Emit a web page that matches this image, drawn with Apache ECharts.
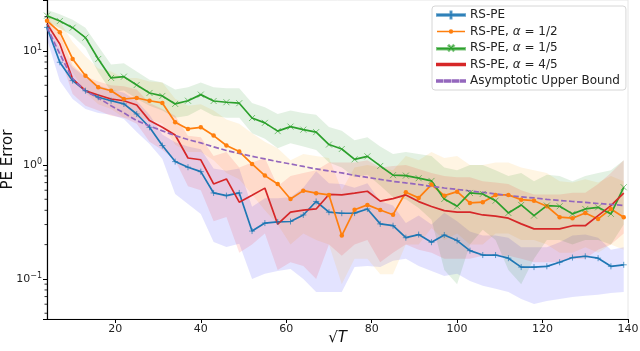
<!DOCTYPE html>
<html>
<head>
<meta charset="utf-8">
<script src="https://cdn.jsdelivr.net/npm/echarts@6/dist/echarts.min.js"></script>
<style>
  html, body { margin: 0; padding: 0; background: #fff; }
  #chart { width: 640px; height: 351px; }
</style>
</head>
<body>
<div id="chart"></div>
<script>
// sqrt(T) sample positions
const xs = [4, 7, 10, 13, 16, 19, 22, 25, 28, 31, 34, 37, 40, 43, 46, 49, 52, 55, 58, 61, 64, 67, 70, 73, 76, 79, 82, 85, 88, 91, 94, 97, 100, 103, 106, 109, 112, 115, 118, 121, 124, 127, 130, 133, 136, 139];

// RS-PE
const rsPe = [16.1, 7.96, 5.49, 4.48, 3.93, 3.66, 3.43, 2.80, 2.14, 1.48, 1.07, 0.955, 0.873, 0.568, 0.538, 0.568, 0.263, 0.309, 0.316, 0.319, 0.364, 0.478, 0.385, 0.377, 0.378, 0.411, 0.304, 0.293, 0.230, 0.245, 0.210, 0.243, 0.217, 0.177, 0.162, 0.162, 0.152, 0.127, 0.127, 0.129, 0.140, 0.154, 0.158, 0.152, 0.129, 0.133];
const rsPeLo = [12.7, 5.46, 3.79, 3.10, 2.86, 2.75, 2.53, 1.95, 1.53, 1.13, 0.557, 0.455, 0.372, 0.211, 0.191, 0.203, 0.100, 0.111, 0.1175, 0.1224, 0.100, 0.0769, 0.0769, 0.0769, 0.1274, 0.130, 0.1274, 0.144, 0.150, 0.130, 0.1175, 0.106, 0.111, 0.096, 0.087, 0.082, 0.0769, 0.0668, 0.0604, 0.064, 0.0668, 0.0695, 0.071, 0.0725, 0.0754, 0.0769];
const rsPeHi = [19.5, 10.5, 7.2, 5.9, 5.0, 4.6, 4.3, 3.65, 2.75, 1.85, 1.58, 1.45, 1.37, 0.93, 0.89, 0.93, 0.43, 0.51, 0.51, 0.52, 0.63, 0.88, 0.69, 0.68, 0.63, 0.69, 0.48, 0.44, 0.31, 0.36, 0.30, 0.38, 0.32, 0.26, 0.24, 0.24, 0.23, 0.19, 0.19, 0.19, 0.21, 0.24, 0.245, 0.23, 0.18, 0.19];

// RS-PE, alpha = 1/2
const rsPeHalf = [18.4, 14.6, 8.51, 6.07, 4.80, 4.48, 3.79, 3.87, 3.66, 3.50, 2.37, 2.07, 2.14, 1.81, 1.48, 1.31, 1.02, 0.806, 0.681, 0.503, 0.595, 0.565, 0.546, 0.240, 0.405, 0.446, 0.403, 0.366, 0.576, 0.514, 0.672, 0.538, 0.583, 0.464, 0.471, 0.546, 0.546, 0.496, 0.486, 0.434, 0.348, 0.341, 0.379, 0.336, 0.411, 0.348];
const rsPeHalfLo = [16, 12, 6.5, 4.3, 3.4, 3.1, 2.6, 2.6, 2.5, 2.3, 1.5, 1.3, 1.3, 1.1, 0.85, 0.75, 0.55, 0.4, 0.3, 0.2, 0.25, 0.22, 0.2, 0.09, 0.15, 0.15, 0.11, 0.11, 0.2, 0.2, 0.28, 0.22, 0.25, 0.2, 0.2, 0.25, 0.25, 0.22, 0.22, 0.2, 0.17, 0.17, 0.19, 0.17, 0.2, 0.18];
const rsPeHalfHi = [21, 18, 12, 9.0, 7.0, 6.6, 5.8, 5.8, 5.4, 5.3, 3.8, 3.3, 3.4, 3.0, 2.5, 2.3, 1.9, 1.6, 1.4, 1.1, 1.25, 1.2, 1.15, 0.6, 0.95, 1.0, 0.95, 0.9, 1.2, 1.1, 1.3, 1.15, 1.2, 1.0, 1.0, 1.05, 1.05, 0.95, 0.9, 0.85, 0.72, 0.7, 0.75, 0.7, 0.8, 0.72];

// RS-PE, alpha = 1/5
const rsPeFifth = [20.4, 18.3, 16.0, 13.1, 8.51, 5.80, 5.95, 5.03, 4.28, 4.03, 3.43, 3.66, 4.14, 3.64, 3.55, 3.48, 2.58, 2.34, 1.98, 2.17, 2.04, 1.94, 1.51, 1.38, 1.12, 1.19, 0.98, 0.814, 0.806, 0.765, 0.724, 0.503, 0.434, 0.568, 0.557, 0.486, 0.379, 0.446, 0.359, 0.440, 0.434, 0.372, 0.411, 0.425, 0.372, 0.637];
const rsPeFifthLo = [18.0, 15.8, 13.5, 10.6, 6.5, 4.4, 4.5, 3.8, 3.3, 3.0, 2.6, 2.7, 3.1, 2.7, 2.6, 2.6, 1.9, 1.7, 1.4, 1.55, 1.45, 1.35, 1.05, 0.95, 0.78, 0.82, 0.66, 0.52, 0.50, 0.42, 0.33, 0.12, 0.09, 0.2, 0.27, 0.22, 0.12, 0.09, 0.15, 0.22, 0.22, 0.2, 0.22, 0.22, 0.2, 0.3];
const rsPeFifthHi = [23.0, 21.0, 18.8, 16.0, 11.0, 7.6, 7.8, 6.6, 5.6, 5.3, 4.6, 4.8, 5.3, 4.8, 4.7, 4.7, 3.5, 3.2, 2.8, 3.0, 2.85, 2.75, 2.15, 2.0, 1.65, 1.75, 1.45, 1.25, 1.3, 1.25, 1.2, 0.95, 0.9, 1.0, 1.0, 0.9, 0.8, 0.85, 0.72, 0.82, 0.8, 0.72, 0.8, 0.85, 0.9, 1.1];

// RS-PE, alpha = 4/5
const rsPeFourFifths = [17.3, 11.5, 5.68, 4.48, 4.11, 3.79, 3.66, 3.36, 2.45, 2.14, 1.83, 1.15, 1.11, 0.681, 0.754, 0.471, 0.542, 0.626, 0.302, 0.385, 0.401, 0.411, 0.551, 0.546, 0.566, 0.588, 0.481, 0.506, 0.546, 0.477, 0.432, 0.397, 0.385, 0.385, 0.364, 0.355, 0.341, 0.304, 0.275, 0.275, 0.275, 0.293, 0.293, 0.359, 0.440, 0.565];
const rsPeFourFifthsLo = [15, 9, 4.2, 3.3, 3.0, 2.7, 2.6, 2.3, 1.6, 1.35, 1.1, 0.65, 0.6, 0.32, 0.35, 0.17, 0.2, 0.25, 0.12, 0.14, 0.13, 0.1, 0.2, 0.16, 0.2, 0.22, 0.14, 0.17, 0.2, 0.18, 0.17, 0.15, 0.15, 0.15, 0.16, 0.16, 0.16, 0.15, 0.14, 0.14, 0.14, 0.15, 0.15, 0.18, 0.2, 0.25];
const rsPeFourFifthsHi = [20, 14, 7.5, 6.0, 5.4, 5.0, 4.9, 4.6, 3.5, 3.1, 2.7, 1.8, 1.75, 1.2, 1.3, 0.95, 1.05, 1.15, 0.65, 0.8, 0.85, 0.9, 1.05, 1.05, 1.05, 1.1, 0.95, 0.98, 1.0, 0.92, 0.85, 0.8, 0.78, 0.78, 0.72, 0.7, 0.68, 0.6, 0.55, 0.55, 0.55, 0.57, 0.57, 0.68, 0.85, 1.1];

// Asymptotic Upper Bound
const upperBound = [16.2, 9.41, 5.68, 4.46, 3.87, 3.31, 2.86, 2.45, 2.20, 1.99, 1.81, 1.67, 1.56, 1.44, 1.34, 1.26, 1.19, 1.13, 1.07, 1.02, 0.97, 0.922, 0.886, 0.851, 0.809, 0.777, 0.746, 0.717, 0.695, 0.674, 0.648, 0.628, 0.610, 0.591, 0.574, 0.557, 0.540, 0.524, 0.514, 0.498, 0.488, 0.478, 0.469, 0.459, 0.450, 0.441];

// log-axis minor tick values
const minorTicks = [0.05, 0.06, 0.07, 0.08, 0.09, 0.2, 0.3, 0.4, 0.5, 0.6, 0.7, 0.8, 0.9, 2, 3, 4, 5, 6, 7, 8, 9, 20];

const X_MIN = 4, X_MAX = 140, Y_MIN = 0.0445, Y_MAX = 28;
const FONT = "DejaVu Sans";
const names = ["RS-PE", "RS-PE, α = 1/2", "RS-PE, α = 1/5", "RS-PE, α = 4/5", "Asymptotic Upper Bound"];

// legend icons (28 wide so they keep 1:1 scale)
const BAR = "M0,0h28v1.5h-28Z";
const iconPlus = "path://M0,2.7h28v1.5h-28Z M13.5,0h1v7h-1Z";
const iconDot = "path://M0,1.5h28v1.5h-28Z M11.8,2.25a2.2,2.2 0 1,1 4.4,0a2.2,2.2 0 1,1 -4.4,0Z";
const iconCross = "path://M0,2.4h28v1.5h-28Z M11.3,0.3l0.7,-0.7l5,5l-0.7,0.7Z M16.3,-0.4l0.7,0.7l-5,5l-0.7,-0.7Z";
const iconDash = "path://M0,0h5.5v1.5h-5.5Z M8,0h5.5v1.5h-5.5Z M16,0h5.5v1.5h-5.5Z M24,0h4v1.5h-4Z";

const pairs = arr => xs.map((x, i) => [x, arr[i]]);

// shaded band between lo and hi
const band = (lo, hi, fill) => ({
  type: "custom",
  data: [[xs[0], lo[0]]],
  silent: true,
  clip: true,
  z: 1,
  renderItem: (params, api) => {
    const pts = [];
    for (let i = 0; i < xs.length; i++) pts.push(api.coord([xs[i], hi[i]]));
    for (let i = xs.length - 1; i >= 0; i--) pts.push(api.coord([xs[i], lo[i]]));
    return { type: "polygon", shape: { points: pts }, style: { fill: fill } };
  }
});

const line = (name, arr, color, symbol, size, markColor, extra) => Object.assign({
  name: name,
  type: "line",
  data: pairs(arr),
  z: 3,
  symbol: symbol,
  symbolSize: size,
  showSymbol: symbol !== "none",
  lineStyle: { color: color, width: 1.7 },
  itemStyle: { color: markColor, borderColor: markColor, borderWidth: 1 }
}, extra || {});

const PLUS = "path://M0,5L10,5M5,0L5,10";
const CROSS = "path://M0,0L10,10M10,0L0,10";

const chart = echarts.init(document.getElementById("chart"));
chart.setOption({
  animation: false,
  backgroundColor: "#fff",
  grid: { left: 47, right: 12, top: 0, bottom: 32, outerBoundsMode: "none", containLabel: false, show: true, borderColor: "#e6e6e6", borderWidth: 1 },
  legend: {
    data: [
      { name: names[0], icon: iconPlus, itemStyle: { color: "#1f77b4" } },
      { name: names[1], icon: iconDot, itemStyle: { color: "#ff7f0e" } },
      { name: names[2], icon: iconCross, itemStyle: { color: "#2ca02c" } },
      { name: names[3], icon: "path://" + BAR, itemStyle: { color: "#d62728" } },
      { name: names[4], icon: iconDash, itemStyle: { color: "#9467bd" } }
    ],
    orient: "vertical",
    left: 432,
    top: 6,
    itemWidth: 28,
    itemHeight: 14,
    itemGap: 4.5,
    padding: [3, 6, 3, 4],
    backgroundColor: "rgba(255,255,255,0.85)",
    borderColor: "#d6d6d6",
    borderWidth: 1,
    borderRadius: 3,
    formatter: n => n.replace("α", "{i|α}"),
    textStyle: {
      fontFamily: FONT, fontSize: 12, color: "#222",
      rich: { i: { fontFamily: FONT, fontSize: 12, fontStyle: "italic", color: "#222" } }
    }
  },
  xAxis: {
    type: "value",
    min: X_MIN,
    max: X_MAX,
    splitNumber: 7,
    name: "{r|√}{t|T}",
    nameLocation: "middle",
    nameGap: 12,
    nameMoveOverlap: false,
    nameTextStyle: {
      rich: {
        r: { fontFamily: FONT, fontSize: 15, color: "#111" },
        t: { fontFamily: FONT, fontSize: 15, fontStyle: "italic", color: "#111" }
      }
    },
    axisLine: { show: true, onZero: false, lineStyle: { color: "#000", width: 1.2 } },
    axisTick: { show: true, length: 4, lineStyle: { color: "#000" } },
    splitLine: { show: false },
    axisLabel: { showMinLabel: false, fontFamily: FONT, fontSize: 11, color: "#222", margin: 5 }
  },
  yAxis: {
    type: "log",
    logBase: 10,
    min: Y_MIN,
    max: Y_MAX,
    name: "PE Error",
    nameLocation: "middle",
    nameGap: 31,
    nameMoveOverlap: false,
    nameTextStyle: { fontFamily: FONT, fontSize: 15, color: "#111" },
    axisLine: { show: true, lineStyle: { color: "#000", width: 1.2 } },
    axisTick: { show: true, length: 4, lineStyle: { color: "#000" } },
    splitLine: { show: false },
    axisLabel: {
      margin: 5,
      formatter: v => {
        const l = Math.log10(v), e = Math.round(l);
        if (Math.abs(l - e) > 1e-6) return "";
        return "{b|10}{s|" + (e < 0 ? "−" : "") + Math.abs(e) + "}";
      },
      rich: {
        b: { fontFamily: FONT, fontSize: 11, color: "#222", lineHeight: 14 },
        s: { fontFamily: FONT, fontSize: 8, color: "#222", verticalAlign: "top" }
      }
    }
  },
  series: [
    band(rsPeLo, rsPeHi, "rgba(0,0,255,0.11)"),
    band(rsPeHalfLo, rsPeHalfHi, "rgba(255,165,0,0.11)"),
    band(rsPeFifthLo, rsPeFifthHi, "rgba(0,128,0,0.11)"),
    band(rsPeFourFifthsLo, rsPeFourFifthsHi, "rgba(255,0,0,0.11)"),
    line(names[0], rsPe, "#1f77b4", PLUS, 6, "rgba(31,119,180,0.7)"),
    line(names[1], rsPeHalf, "#ff7f0e", "circle", 4.5, "#ff7f0e", { itemStyle: { color: "#ff7f0e" } }),
    line(names[2], rsPeFifth, "#2ca02c", CROSS, 6, "rgba(44,160,44,0.6)"),
    line(names[3], rsPeFourFifths, "#d62728", "none", 0, "#d62728"),
    line(names[4], upperBound, "#9467bd", "none", 0, "#9467bd", {
      lineStyle: { color: "#9467bd", width: 1.7, type: [5.5, 2.5] }
    }),
    {
      type: "custom",
      silent: true,
      clip: false,
      z: 4,
      data: minorTicks.map(v => [X_MIN, v]),
      renderItem: (params, api) => {
        const p = api.coord([X_MIN, api.value(1)]);
        return { type: "line", shape: { x1: p[0] - 2.5, y1: p[1], x2: p[0], y2: p[1] }, style: { stroke: "#000", lineWidth: 0.8 } };
      }
    }
  ]
});
</script>
</body>
</html>
